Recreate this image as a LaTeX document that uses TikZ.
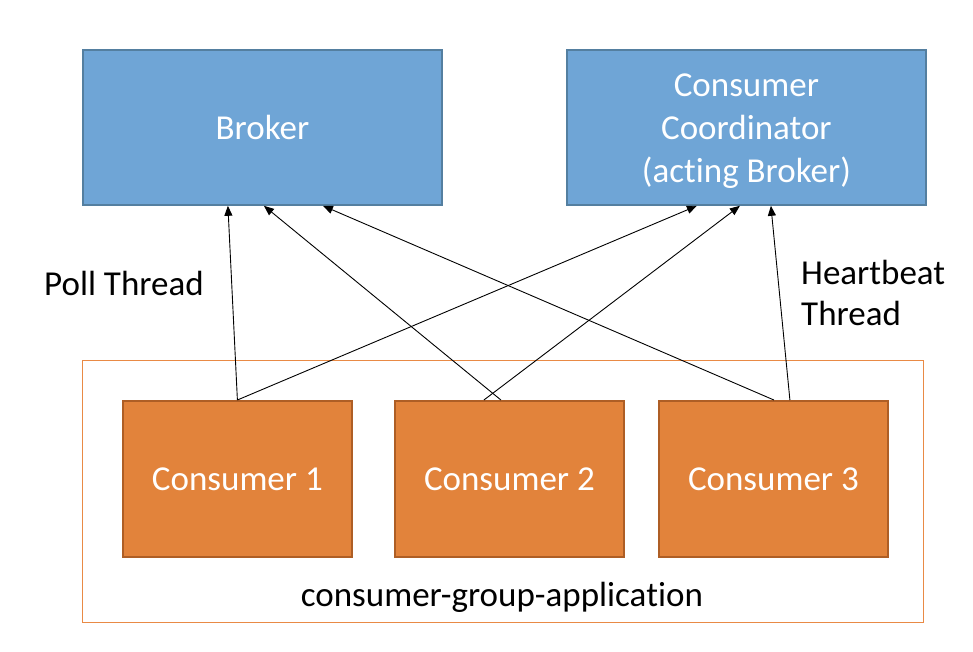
\documentclass[tikz,border=0pt]{standalone}
\usepackage{fontspec}
\setmainfont{Carlito}[Ligatures={NoCommon,NoRare}]
\usetikzlibrary{arrows.meta}
\definecolor{bluefill}{HTML}{6FA5D6}
\definecolor{blueline}{HTML}{547FA0}
\definecolor{orangefill}{HTML}{E2833B}
\definecolor{orangeline}{HTML}{AE5E25}
\definecolor{frameline}{HTML}{E98A45}
\begin{document}
\begin{tikzpicture}[x=1pt,y=-1pt,
  txt/.style={font=\fontsize{35}{43}\selectfont, align=center, inner sep=0pt},
  bluebox/.style={txt, draw=blueline, fill=bluefill, line width=1.8pt, text=white,
     minimum width=359pt, minimum height=155pt, anchor=north west},
  consbox/.style={txt, draw=orangeline, fill=orangefill, line width=1.8pt, text=white,
     minimum width=229pt, minimum height=156pt, anchor=north west},
  conn/.style={line width=0.9pt, -{Triangle[length=10pt,width=8pt]}},
]
\useasboundingbox (0,0) rectangle (973,652);
\node[draw=frameline, line width=1.4pt, minimum width=841pt, minimum height=262pt, anchor=north west, inner sep=0pt] (frame) at (82,360) {};
\node[bluebox] (broker) at (82,49) {Broker};
\node[bluebox] (coord) at (566,49) {};
\node[txt, text=white] (coordtxt) at ([yshift=-4pt]coord.center) {Consumer\\Coordinator\\(ac\kern0pt ting Broker)};
\node[consbox] (c1) at (122,400) {Consumer 1};
\node[consbox] (c2) at (394,400) {Consumer 2};
\node[consbox] (c3) at (658,400) {Consumer 3};
\node[txt] (grp) at (502,597) {consumer-group-applica\kern0pt tion};
\node[txt, anchor=west] (poll) at (44,283) {Poll Thread};
\node[txt, anchor=west, align=left, font=\fontsize{35}{41}\selectfont] (hb) at (801,293) {Heartbeat\\Thread};
\draw[conn] ([xshift=0pt]c1.north) -- ([xshift=-34.5pt]broker.south);
\draw[conn] ([xshift=0pt]c1.north) -- ([xshift=-49.5pt]coord.south);
\draw[conn] ([xshift=-8.5pt]c2.north) -- ([xshift=1.5pt]broker.south);
\draw[conn] ([xshift=-25.5pt]c2.north) -- ([xshift=-6.5pt]coord.south);
\draw[conn] ([xshift=0.5pt]c3.north) -- ([xshift=60.5pt]broker.south);
\draw[conn] ([xshift=16.5pt]c3.north) -- ([xshift=24.5pt]coord.south);
\end{tikzpicture}
\end{document}
